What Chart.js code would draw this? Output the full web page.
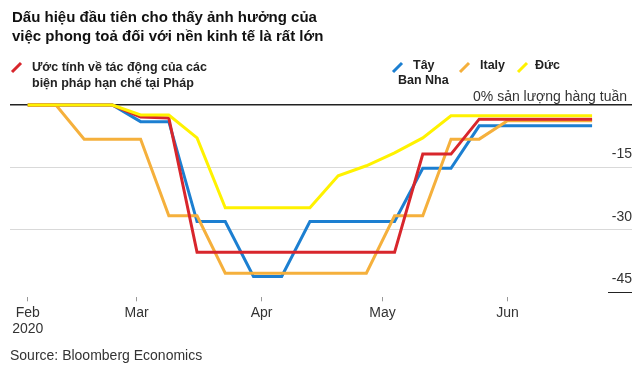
<!DOCTYPE html>
<html>
<head>
<meta charset="utf-8">
<script src="https://cdn.jsdelivr.net/npm/chart.js@4"></script>
<style>
  html, body { margin: 0; padding: 0; background: #fff; }
  #wrap { width: 640px; height: 372px; position: relative; }
</style>
</head>
<body>
<div id="wrap"><canvas id="lockdownChart"></canvas></div>
<script>
// weekly points, days since Mon 3 Feb 2020
const weekDays = [0, 7, 14, 21, 28, 35, 42, 49, 56, 63, 70, 77, 84, 91, 98, 105, 112, 119, 126, 133, 140];

const france  = [0, 0, 0, 0, -2.9, -3.1, -35.4, -35.4, -35.4, -35.4, -35.4, -35.4, -35.4, -35.4, -11.8, -11.8, -3.4, -3.4, -3.4, -3.4, -3.4];
const spain   = [0, 0, 0, 0, -4, -4, -28, -28, -41.2, -41.2, -28, -28, -28, -28, -15.2, -15.2, -5, -5, -5, -5, -5];
const italy   = [0, 0, -8.2, -8.2, -8.2, -26.6, -26.6, -40.4, -40.4, -40.4, -40.4, -40.4, -40.4, -26.6, -26.6, -8.2, -8.2, -3.8, -3.8, -3.8, -3.8];
const germany = [0, 0, 0, 0, -2.4, -2.4, -7.9, -24.7, -24.7, -24.7, -24.7, -17, -14.6, -11.5, -7.9, -2.6, -2.6, -2.6, -2.6, -2.6, -2.6];

// month ticks (days since 3 Feb)
const monthTickDays = [0, 27, 58, 88, 119];
const monthTickLabels = [['Feb', '2020'], 'Mar', 'Apr', 'May', 'Jun'];
const yTickValues = [0, -15, -30, -45];

const titleLines = ['Dấu hiệu đầu tiên cho thấy ảnh hưởng của', 'việc phong toả đối với nền kinh tế là rất lớn'];
const sourceText = 'Source: Bloomberg Economics';
const zeroLabel = '0% sản lượng hàng tuần';

const colors = { france: '#d8262c', spain: '#1c7fd1', italy: '#f5b03c', germany: '#fff200' };

const FONT = '"Liberation Sans", Arial, Helvetica, sans-serif';

const toPoints = (vals) => vals.map((v, i) => ({ x: weekDays[i], y: v }));

// title, legend and other annotations
const annotate = {
  id: 'annotate',
  afterDraw(chart) {
    const ctx = chart.ctx;
    const area = chart.chartArea;
    const yScale = chart.scales.y;
    ctx.save();

    // title
    ctx.fillStyle = '#111';
    ctx.font = 'bold 15px ' + FONT;
    ctx.textBaseline = 'alphabetic';
    ctx.textAlign = 'left';
    titleLines.forEach((t, i) => ctx.fillText(t, 12, 22 + i * 19));

    // legend
    const slash = (x, y, c) => {
      ctx.strokeStyle = c;
      ctx.lineWidth = 3;
      ctx.beginPath();
      ctx.moveTo(x, y + 9);
      ctx.lineTo(x + 9, y);
      ctx.stroke();
    };
    ctx.fillStyle = '#222';
    ctx.font = 'bold 12.5px ' + FONT;
    ctx.textBaseline = 'middle';
    slash(12, 63, colors.france);
    ctx.fillText('Ước tính về tác động của các', 32, 68);
    ctx.fillText('biện pháp hạn chế tại Pháp', 32, 84);

    slash(393, 63, colors.spain);
    ctx.fillText('Tây', 413, 66);
    ctx.fillText('Ban Nha', 398, 81);
    slash(460, 63, colors.italy);
    ctx.fillText('Italy', 480, 66);
    slash(518, 63, colors.germany);
    ctx.fillText('Đức', 535, 66);

    // zero label
    ctx.fillStyle = '#333';
    ctx.font = '14px ' + FONT;
    ctx.textAlign = 'right';
    ctx.fillText(zeroLabel, area.right - 5, yScale.getPixelForValue(0) - 8);

    // short rule under -45
    const y45 = Math.round(yScale.getPixelForValue(-45)) + 0.5;
    ctx.strokeStyle = '#222';
    ctx.lineWidth = 1;
    ctx.beginPath();
    ctx.moveTo(608, y45);
    ctx.lineTo(area.right, y45);
    ctx.stroke();

    // source
    ctx.textAlign = 'left';
    ctx.fillStyle = '#333';
    ctx.font = '14px ' + FONT;
    ctx.fillText(sourceText, 10, 356);
    ctx.restore();
  }
};

new Chart(document.getElementById('lockdownChart'), {
  type: 'line',
  data: {
    datasets: [
      { label: 'Đức', data: toPoints(germany), borderColor: colors.germany, order: 0 },
      { label: 'Pháp', data: toPoints(france), borderColor: colors.france, order: 1 },
      { label: 'Italy', data: toPoints(italy), borderColor: colors.italy, order: 2 },
      { label: 'Tây Ban Nha', data: toPoints(spain), borderColor: colors.spain, order: 3 },
    ],
  },
  options: {
    responsive: true,
    maintainAspectRatio: false,
    animation: false,
    layout: { padding: { top: 105, left: 10, right: 8, bottom: 30.5 } },
    datasets: {
      line: { borderWidth: 3, pointRadius: 0, tension: 0, clip: false, fill: false },
    },
    plugins: {
      legend: { display: false },
      title: { display: false },
      tooltip: { enabled: false },
    },
    scales: {
      x: {
        type: 'linear',
        min: -4.4,
        max: 149.9,
        afterBuildTicks: (scale) => { scale.ticks = monthTickDays.map(v => ({ value: v })); },
        border: { display: false },
        grid: { drawOnChartArea: false, drawTicks: true, tickLength: 4, color: '#999' },
        ticks: {
          autoSkip: false,
          maxRotation: 0,
          padding: 4,
          color: '#333',
          font: { family: FONT, size: 14, lineHeight: 1.15 },
          callback: (value) => monthTickLabels[monthTickDays.indexOf(value)],
        },
      },
      y: {
        position: 'right',
        min: -46.2,
        max: 0,
        afterBuildTicks: (scale) => { scale.ticks = yTickValues.map(v => ({ value: v })); },
        border: { display: false },
        grid: {
          drawTicks: false,
          color: (c) => c.tick.value === 0 ? '#222' : (c.tick.value === -45 ? 'rgba(0,0,0,0)' : '#d9d9d9'),
          lineWidth: (c) => c.tick.value === 0 ? 1.5 : 1,
        },
        ticks: {
          mirror: true,
          padding: 0,
          labelOffset: -13,
          color: '#333',
          font: { family: FONT, size: 14 },
          callback: (value) => value === 0 ? '' : String(value),
        },
      },
    },
  },
  plugins: [annotate],
});
</script>
</body>
</html>
